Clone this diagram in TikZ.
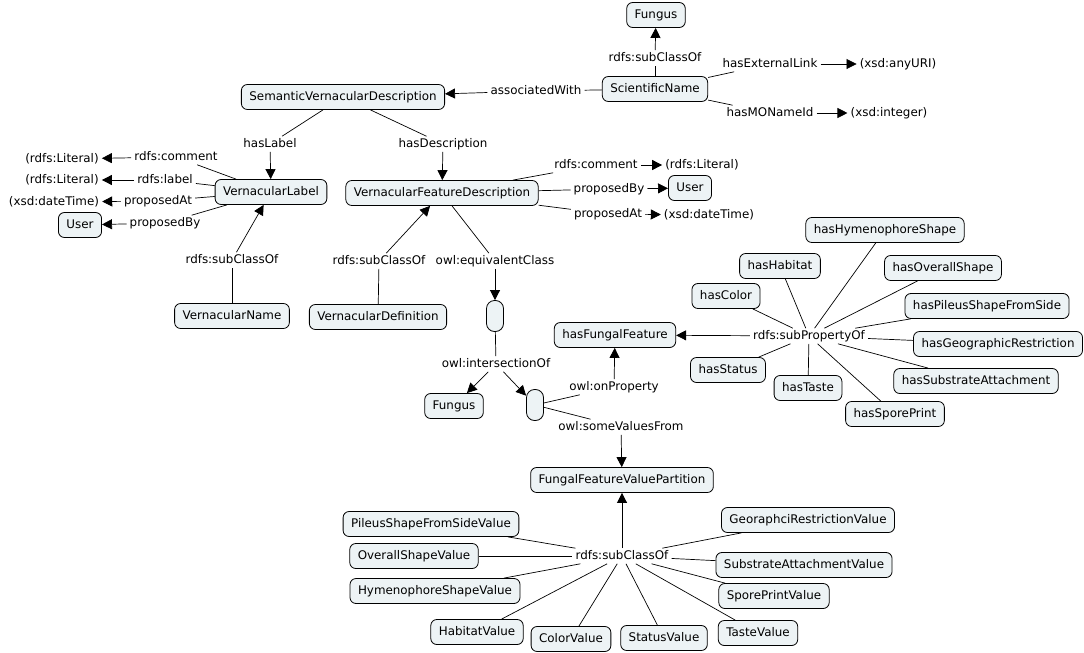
\documentclass[tikz,border=0pt]{standalone}
\usepackage{fontspec}
\setmainfont{DejaVu Sans}
\usetikzlibrary{arrows.meta}
\definecolor{cfill}{RGB}{237,243,245}
\begin{document}
\begin{tikzpicture}[x=1pt,y=-1pt,
  font=\fontsize{11.9}{14}\selectfont,
  every node/.style={text height=8.6pt, text depth=2.6pt},
  cnode/.style={draw=black, line width=0.8pt, fill=cfill, rounded corners=6pt, inner xsep=8pt, inner ysep=0pt, minimum height=25pt},
  bnode/.style={draw=black, line width=0.8pt, fill=cfill, rounded corners=8pt, inner sep=0pt, minimum width=17pt, minimum height=31pt},
  tnode/.style={inner xsep=3pt, inner ysep=2pt},
  lnode/.style={inner xsep=3pt, inner ysep=2pt},
  conn/.style={line width=0.7pt},
  arr/.style={conn, -{Triangle[length=10pt,width=10pt]}},
]
\useasboundingbox (0,0) rectangle (1084,653);

% concept nodes
\node[cnode] (fungusA) at (656,15) {Fungus};
\node[cnode] (sci) at (655,89) {ScientificName};
\node[cnode] (svd) at (343,97) {SemanticVernacularDescription};
\node[cnode] (vl) at (271,192) {VernacularLabel};
\node[cnode] (vfd) at (442,193) {VernacularFeatureDescription};
\node[cnode] (userL) at (80,225) {User};
\node[cnode] (userR) at (690,188) {User};
\node[cnode] (vn) at (232,316) {VernacularName};
\node[cnode] (vd) at (378,317) {VernacularDefinition};
\node[bnode] (b1) at (495,316) {};
\node[cnode] (fungusB) at (454,406) {Fungus};
\node[bnode] (b2) at (535,405) {};
\node[cnode] (hff) at (615,335) {hasFungalFeature};
\node[cnode] (ffvp) at (622,480) {FungalFeatureValuePartition};

% property nodes
\node[cnode] (pHym) at (885,230) {hasHymenophoreShape};
\node[cnode] (pHab) at (780,266) {hasHabitat};
\node[cnode] (pOve) at (943,268) {hasOverallShape};
\node[cnode] (pCol) at (726,296) {hasColor};
\node[cnode] (pPil) at (987,306) {hasPileusShapeFromSide};
\node[cnode] (pGeo) at (998,344) {hasGeographicRestriction};
\node[cnode] (pSub) at (976,381) {hasSubstrateAttachment};
\node[cnode] (pSta) at (728,370) {hasStatus};
\node[cnode] (pTas) at (808,388) {hasTaste};
\node[cnode] (pSpo) at (895,414) {hasSporePrint};

% value nodes
\node[cnode] (vPil) at (431,524) {PileusShapeFromSideValue};
\node[cnode] (vOve) at (414,556) {OverallShapeValue};
\node[cnode] (vHym) at (435,591) {HymenophoreShapeValue};
\node[cnode] (vHab) at (477,632) {HabitatValue};
\node[cnode] (vCol) at (571,639) {ColorValue};
\node[cnode] (vSta) at (664,638) {StatusValue};
\node[cnode] (vTas) at (758,633) {TasteValue};
\node[cnode] (vSpo) at (774,596) {SporePrintValue};
\node[cnode] (vSub) at (804,565) {SubstrateAttachmentValue};
\node[cnode] (vGeo) at (808,520) {GeoraphciRestrictionValue};

% literal targets
\node[tnode] (anyURI) at (898,64) {(xsd:anyURI)};
\node[tnode] (integer) at (889,113) {(xsd:integer)};
\node[tnode] (litL1) at (62,159) {(rdfs:Literal)};
\node[tnode] (litL2) at (62,180) {(rdfs:Literal)};
\node[tnode] (dtL) at (54,202) {(xsd:dateTime)};
\node[tnode] (litR) at (702,165) {(rdfs:Literal)};
\node[tnode] (dtR) at (709,215) {(xsd:dateTime)};

% link labels
\node[lnode] (lSub1) at (655,58) {rdfs:subClassOf};
\node[lnode] (lExt) at (770,64) {hasExternalLink};
\node[lnode] (lMON) at (770,113) {hasMONameId};
\node[lnode] (lAssoc) at (536,91) {associatedWith};
\node[lnode] (lHasLabel) at (270,144) {hasLabel};
\node[lnode] (lHasDesc) at (443,144) {hasDescription};
\node[lnode] (lComL) at (176,157) {rdfs:comment};
\node[lnode] (lLabL) at (165,180) {rdfs:label};
\node[lnode] (lAtL) at (158,201) {proposedAt};
\node[lnode] (lByL) at (165,223) {proposedBy};
\node[lnode] (lComR) at (596,165) {rdfs:comment};
\node[lnode] (lByR) at (609,189) {proposedBy};
\node[lnode] (lAtR) at (608,214) {proposedAt};
\node[lnode] (lSub2) at (232,260) {rdfs:subClassOf};
\node[lnode] (lSub3) at (379,261) {rdfs:subClassOf};
\node[lnode] (lEq) at (495,261) {owl:equivalentClass};
\node[lnode] (lInter) at (496,364) {owl:intersectionOf};
\node[lnode] (lOnProp) at (614,387) {owl:onProperty};
\node[lnode] (lSome) at (621,427) {owl:someValuesFrom};
\node[lnode] (lSubProp) at (809,336) {rdfs:subPropertyOf};
\node[lnode] (lSubCls) at (622,556) {rdfs:subClassOf};

% connectors
\draw[conn] (sci) -- (lSub1);  \draw[arr] (lSub1) -- (fungusA);
\draw[conn] (sci) -- (lExt);   \draw[arr] (lExt) -- (anyURI);
\draw[conn] (sci) -- (lMON);   \draw[arr] (lMON) -- (integer);
\draw[conn] (sci) -- (lAssoc); \draw[arr] (lAssoc) -- (svd);
\draw[conn] (svd) -- (lHasLabel); \draw[arr] (lHasLabel) -- (vl);
\draw[conn] (svd) -- (lHasDesc);  \draw[arr] (lHasDesc) -- (vfd);
\draw[conn] (vl) -- (lComL); \draw[arr] (lComL) -- (litL1);
\draw[conn] (vl) -- (lLabL); \draw[arr] (lLabL) -- (litL2);
\draw[conn] (vl) -- (lAtL);  \draw[arr] (lAtL) -- (dtL);
\draw[conn] (vl) -- (lByL);  \draw[arr] (lByL) -- (userL);
\draw[conn] (vfd) -- (lComR); \draw[arr] (lComR) -- (litR);
\draw[conn] (vfd) -- (lByR);  \draw[arr] (lByR) -- (userR);
\draw[conn] (vfd) -- (lAtR);  \draw[arr] (lAtR) -- (dtR);
\draw[conn] (vn) -- (lSub2); \draw[arr] (lSub2) -- (vl);
\draw[conn] (vd) -- (lSub3); \draw[arr] (lSub3) -- (vfd);
\draw[conn] (vfd) -- (lEq);  \draw[arr] (lEq) -- (b1);
\draw[conn] (b1) -- (lInter); \draw[arr] (lInter) -- (fungusB); \draw[arr] (lInter) -- (b2);
\draw[conn] (b2) -- (lOnProp); \draw[arr] (lOnProp) -- (hff);
\draw[conn] (b2) -- (lSome);   \draw[arr] (lSome) -- (ffvp);

\foreach \p in {pHym,pHab,pOve,pCol,pPil,pGeo,pSub,pSta,pTas,pSpo}
  \draw[conn] (\p) -- (lSubProp);
\draw[arr] (lSubProp) -- (hff);

\foreach \v in {vPil,vOve,vHym,vHab,vCol,vSta,vTas,vSpo,vSub,vGeo}
  \draw[conn] (\v) -- (lSubCls);
\draw[arr] (lSubCls) -- (ffvp);
\end{tikzpicture}
\end{document}
